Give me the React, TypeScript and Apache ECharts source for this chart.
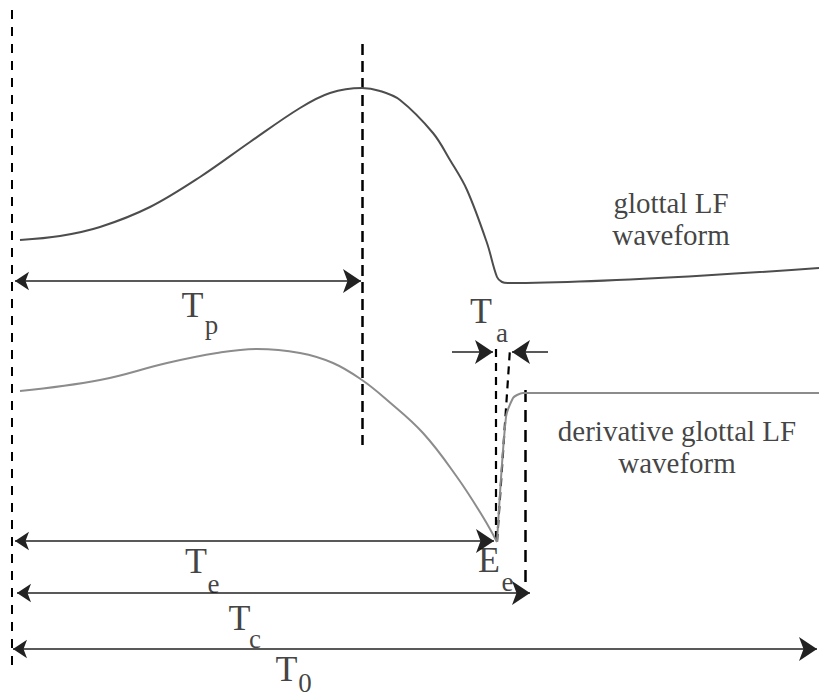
import { useEffect, useRef } from "react";
import * as echarts from "echarts";

// Horizontal axis: time in samples (one fundamental period T0 = 805 samples).
// Vertical axis: level in arbitrary units, both waveforms stacked on one scale.
const TIME_RANGE: [number, number] = [-12, 807];
const LEVEL_RANGE: [number, number] = [0, 700];

// LF model timing instants (samples)
const Tp = 350; // instant of maximum glottal flow
const Te = 484; // instant of maximum excitation (Ee)
const TaEnd = 498; // tangent of the return phase reaches zero
const Tc = 513; // glottal closure
const T0 = 805; // fundamental period

// Glottal flow U(t)
const flowPoints: [number, number][] = [
  [8, 460], [48, 464], [88, 473], [138, 493], [188, 523], [238, 558],
  [288, 592], [318, 607], [350, 612], [368, 609], [388, 600], [421, 567],
  [438, 540], [455, 510], [475, 457], [485, 423], [490, 418], [496, 417],
  [807, 432],
];

// Flow derivative, open phase (up to Ee)
const derivOpenPoints: [number, number][] = [
  [8, 309], [88, 320], [155, 337], [205, 347], [245, 351], [288, 347],
  [321, 337], [350, 320], [375, 300], [411, 267], [445, 223], [471, 183],
  [485, 158],
];

// Flow derivative, return phase (Ee back to the zero level)
const derivReturnPoints: [number, number][] = [
  [485, 158], [494, 283], [501, 302], [505, 305], [511, 307], [807, 307],
];

const EeLevel = 158;
const zeroLevel = 307;

// Level of each dimension arrow
const arrowLevels = { Tp: 419, Ta: 348, Te: 159, Tc: 107, T0: 51 };

// Symbol glyphs of the annotations: text, time, level, size class
const glyphText = ["T", "p", "T", "a", "T", "e", "E", "e", "T", "c", "T", "0"];
const glyphTime = [180.5, 199.5, 469, 490, 184, 201.5, 477, 495.5, 227.5, 243, 274.5, 293];
const glyphLevel = [395.5, 375, 389, 367, 139, 116, 140.5, 118, 82.5, 61, 31, 17];
const glyphSub = [false, true, false, true, false, true, false, true, false, true, false, true];

// Curve captions
const captionText = ["glottal LF\nwaveform", "derivative glottal LF\nwaveform"];
const captionTime = [659, 665];
const captionLevel = [481.5, 253];

const SERIF = "'Liberation Serif', 'Times New Roman', 'DejaVu Serif', serif";

export default function App() {
  const ref = useRef<HTMLDivElement>(null);

  useEffect(() => {
    if (!ref.current) return;
    const chart = echarts.init(ref.current, null, { renderer: "svg" });

    const heavyDash = { color: "#000", width: 2.5, opacity: 1, type: [11, 6] as number[] };
    const guideLines = [
      { coords: [[0, 690], [0, 28]], lineStyle: { color: "#000", width: 2, opacity: 1, type: [9, 8] } },
      { coords: [[Tp, 656], [Tp, 255]], lineStyle: heavyDash },
      { coords: [[Te, 351], [Te, EeLevel]], lineStyle: { ...heavyDash, width: 2.2, type: [8, 6] } },
      { coords: [[Te + 1, EeLevel], [TaEnd, 351]], lineStyle: { ...heavyDash, width: 2.2, type: [8, 6] } },
      { coords: [[Tc, zeroLevel + 3], [Tc, 115]], lineStyle: { ...heavyDash, type: [12, 8] } },
    ];

    const doubleArrows = [
      { coords: [[3, arrowLevels.Tp], [Tp - 1, arrowLevels.Tp]] },
      { coords: [[3, arrowLevels.Te], [Te - 2, arrowLevels.Te]] },
      { coords: [[5, arrowLevels.Tc], [Tc + 5, arrowLevels.Tc]] },
      { coords: [[1, arrowLevels.T0], [T0, arrowLevels.T0]] },
    ];
    const singleArrows = [
      { coords: [[440, arrowLevels.Ta], [Te - 3, arrowLevels.Ta]] },
      { coords: [[536, arrowLevels.Ta], [TaEnd + 2, arrowLevels.Ta]] },
    ];

    const glyphData = glyphText.map((text, i) => ({
      value: [glyphTime[i], glyphLevel[i]],
      name: text,
      label: { fontSize: glyphSub[i] ? 27 : 36 },
    }));
    const captionData = captionText.map((text, i) => ({
      value: [captionTime[i], captionLevel[i]],
      name: text,
    }));

    const arrowStyle = { color: "#222", width: 1.7, opacity: 1 };

    chart.setOption({
      animation: false,
      grid: { left: 0, right: 0, top: 0, bottom: 0 },
      xAxis: { type: "value", min: TIME_RANGE[0], max: TIME_RANGE[1], show: false },
      yAxis: { type: "value", min: LEVEL_RANGE[0], max: LEVEL_RANGE[1], show: false },
      series: [
        {
          type: "line",
          name: "glottal flow",
          data: flowPoints,
          showSymbol: false,
          smooth: 0.35,
          silent: true,
          lineStyle: { color: "#4d4d4d", width: 2 },
        },
        {
          type: "line",
          name: "flow derivative open",
          data: derivOpenPoints,
          showSymbol: false,
          smooth: 0.4,
          silent: true,
          lineStyle: { color: "#8c8c8c", width: 2 },
        },
        {
          type: "line",
          name: "flow derivative return",
          data: derivReturnPoints,
          showSymbol: false,
          smooth: 0.25,
          silent: true,
          lineStyle: { color: "#8c8c8c", width: 2 },
        },
        {
          type: "lines",
          coordinateSystem: "cartesian2d",
          data: guideLines,
          symbol: ["none", "none"],
          lineStyle: { color: "#000", opacity: 1 },
          silent: true,
          z: 3,
        },
        {
          type: "lines",
          coordinateSystem: "cartesian2d",
          data: doubleArrows,
          symbol: ["arrow", "arrow"],
          symbolSize: [14, 18],
          lineStyle: arrowStyle,
          itemStyle: { color: "#111" },
          silent: true,
          z: 4,
        },
        {
          type: "lines",
          coordinateSystem: "cartesian2d",
          data: singleArrows,
          symbol: ["none", "arrow"],
          symbolSize: [14, 18],
          lineStyle: arrowStyle,
          itemStyle: { color: "#111" },
          silent: true,
          z: 4,
        },
        {
          type: "scatter",
          data: glyphData,
          symbolSize: 1,
          itemStyle: { color: "rgba(0,0,0,0)" },
          silent: true,
          z: 5,
          label: {
            show: true,
            position: "inside",
            formatter: (p: any) => p.name,
            color: "#111",
            fontFamily: SERIF,
            align: "center",
            verticalAlign: "middle",
          },
        },
        {
          type: "scatter",
          data: captionData,
          symbolSize: 1,
          itemStyle: { color: "rgba(0,0,0,0)" },
          silent: true,
          z: 5,
          label: {
            show: true,
            position: "inside",
            formatter: (p: any) => p.name,
            color: "#111",
            fontFamily: SERIF,
            fontSize: 29,
            lineHeight: 32,
            align: "center",
            verticalAlign: "middle",
          },
        },
      ],
    });

    return () => chart.dispose();
  }, []);

  return (
    <div
      ref={ref}
      style={{ position: "fixed", left: 0, top: 0, width: 819, height: 700, background: "#fff" }}
    />
  );
}
